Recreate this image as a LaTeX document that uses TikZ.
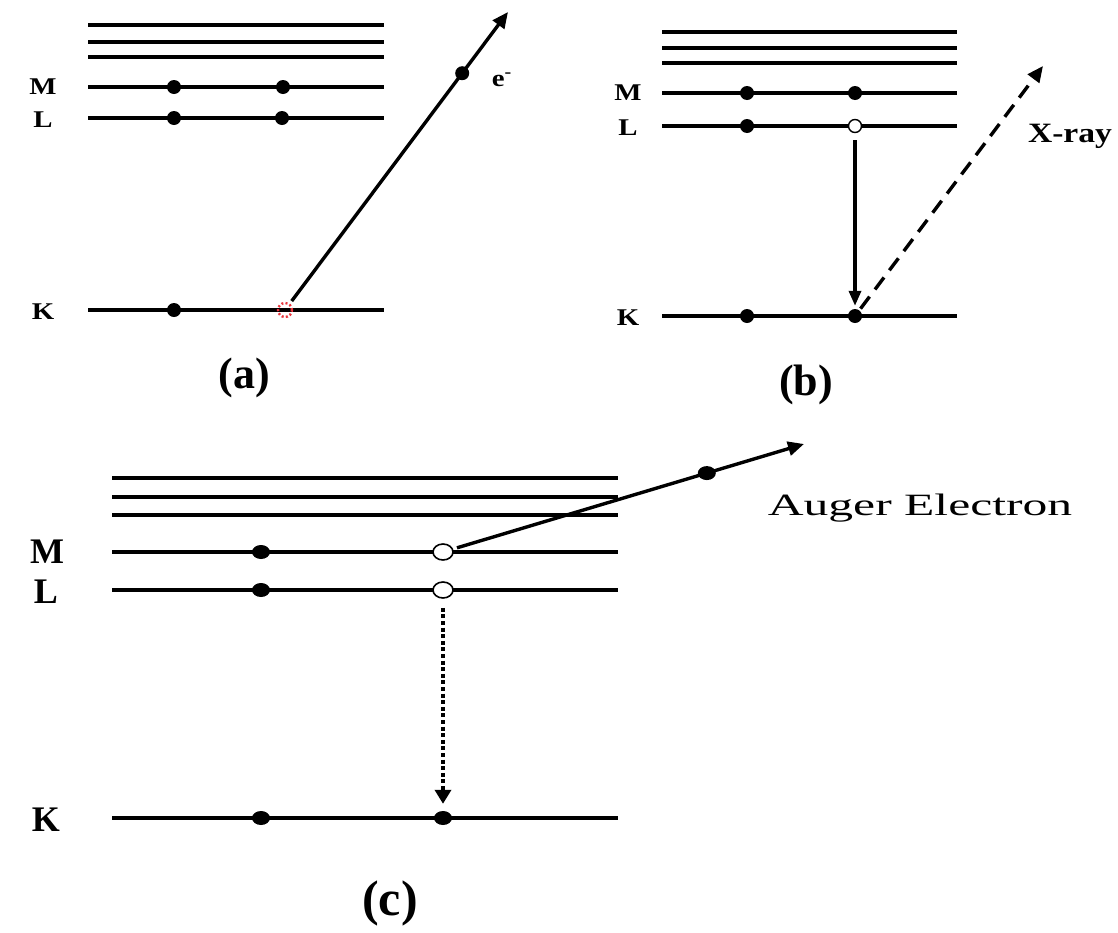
\documentclass[tikz,border=0pt]{standalone}
\usepackage{fontspec}
\setmainfont{Liberation Serif}
\usetikzlibrary{positioning, arrows.meta, shapes.geometric}
\definecolor{HoleRed}{HTML}{E8343C}
\tikzset{
    level/.style={line width=3.8pt, draw=black},
    electron/.style={circle, fill=black, inner sep=0pt, minimum size=14pt},
    hole/.style={circle, draw=black, fill=white, line width=1.4pt, inner sep=0pt, minimum size=13pt},
    lostelectron/.style={circle, draw=HoleRed, line width=2.4pt, dash pattern=on 2pt off 2.2pt, inner sep=0pt, minimum size=14pt},
    shellab/.style={font=\bfseries\fontsize{24}{24}\selectfont, xscale=1.2},
    panellab/.style={font=\bfseries\fontsize{44}{44}\selectfont},
    arr/.style={-{Triangle[length=16pt, width=14pt]}, line width=3.4pt}
}

\begin{document}
\begin{tikzpicture}[
        x=1pt, y=-1pt,
        bigelectron/.style={ellipse, fill=black, inner sep=0pt, minimum width=18pt, minimum height=14pt},
        bighole/.style={ellipse, draw=black, fill=white, line width=1.6pt, inner sep=0pt, minimum width=20pt, minimum height=16pt},
        bigshellab/.style={font=\bfseries\fontsize{36}{36}\selectfont},
        dasharr/.style={arr, dash pattern=on 15pt off 9pt},
        dotarr/.style={-{Triangle[length=14pt, width=16pt]}, line width=4.8pt, dash pattern=on 4pt off 2.6pt}
    ]
    \useasboundingbox (0,0) rectangle (1118,932);

    % --- PANEL (a): PHOTOIONIZATION ---
    \foreach \y in {25, 42, 57, 87, 118, 310}
        \draw[level] (88,\y) -- (384,\y);
    \node[shellab] (aM) at (43,87) {M};
    \node[shellab] (aL) at (43,120) {L};
    \node[shellab] (aK) at (43,312) {K};
    \node[electron] (aM1) at (174,87) {};
    \node[electron] (aM2) at (283,87) {};
    \node[electron] (aL1) at (174,118) {};
    \node[electron] (aL2) at (282,118) {};
    \node[electron] (aK1) at (174,310) {};
    \node[lostelectron] (aK2) at (285,310) {};
    \coordinate (aout) at (508,12);
    \draw[arr, shorten <=3pt] (aK2) -- (aout) node[electron, pos=0.79] (aeject) {};
    \node[shellab] (aelab) at (502,80) {e\textsuperscript{-}};
    \node[panellab] (alab) at (244,378) {(a)};

    % --- PANEL (b): X-RAY EMISSION ---
    \foreach \y in {32, 48, 63, 93, 126, 316}
        \draw[level] (662,\y) -- (957,\y);
    \node[shellab] (bM) at (628,93) {M};
    \node[shellab] (bL) at (628,128) {L};
    \node[shellab] (bK) at (628,318) {K};
    \node[electron] (bM1) at (747,93) {};
    \node[electron] (bM2) at (855,93) {};
    \node[electron] (bL1) at (747,126) {};
    \node[hole] (bL2) at (855,126) {};
    \node[electron] (bK1) at (747,316) {};
    \node[electron] (bK2) at (855,316) {};
    \draw[arr, -{Triangle[length=15pt, width=12pt]}, shorten <=7pt, shorten >=3pt] (bL2) -- (bK2);
    \coordinate (bout) at (1043,66);
    \draw[dasharr, shorten <=2pt] (bK2) -- (bout);
    \node[font=\bfseries\fontsize{28}{28}\selectfont, xscale=1.2] (bxray) at (1070,136) {X-ray};
    \node[panellab] (blab) at (806,385) {(b)};

    % --- PANEL (c): AUGER EMISSION ---
    \foreach \y in {478, 497, 515, 552, 590, 818}
        \draw[level] (112,\y) -- (618,\y);
    \node[bigshellab] (cM) at (47,552) {M};
    \node[bigshellab] (cL) at (46,592) {L};
    \node[bigshellab] (cK) at (46,820) {K};
    \node[bigelectron] (cM1) at (261,552) {};
    \node[bighole] (cM2) at (443,552) {};
    \node[bigelectron] (cL1) at (261,590) {};
    \node[bighole] (cL2) at (443,590) {};
    \node[bigelectron] (cK1) at (261,818) {};
    \node[bigelectron] (cK2) at (443,818) {};
    \coordinate (cout) at (804,444);
    \draw[arr, shorten <=4pt] (cM2) -- (cout) node[bigelectron, pos=0.723] (ceject) {};
    \node[font=\fontsize{31}{31}\selectfont, xscale=1.6] (cauger) at (920,508) {Auger Electron};
    \draw[dotarr, shorten <=9pt, shorten >=7pt] (cL2) -- (cK2);
    \node[font=\bfseries\fontsize{50}{50}\selectfont] (clab) at (390,903) {(c)};

\end{tikzpicture}
\end{document}
